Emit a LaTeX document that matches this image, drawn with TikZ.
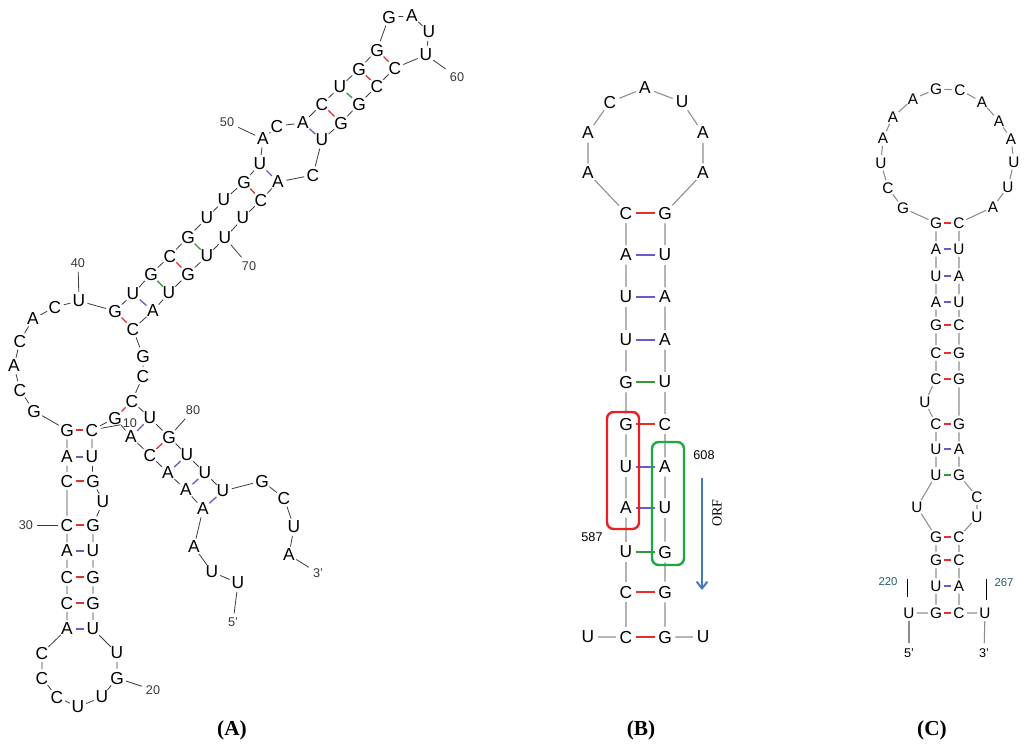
\documentclass[tikz,border=0pt]{standalone}
\usepackage{fontspec}
\setmainfont{Liberation Sans}
\newfontfamily\titlefont{Liberation Serif}
\usepackage{xcolor}
\usetikzlibrary{arrows.meta}
\definecolor{redGC}{RGB}{232,45,45}
\definecolor{blueAU}{RGB}{105,90,200}
\definecolor{greenGU}{RGB}{55,150,55}
\definecolor{bbdark}{RGB}{60,60,60}
\definecolor{bblight}{RGB}{140,140,140}
\definecolor{numgray}{RGB}{55,55,55}
\definecolor{tealnum}{RGB}{35,95,105}
\definecolor{orfblue}{RGB}{70,120,190}
\definecolor{boxred}{RGB}{235,30,35}
\definecolor{boxgreen}{RGB}{25,170,65}

\begin{document}
\begin{tikzpicture}[x=0.75pt,y=0.75pt,yscale=-1,xscale=1,
    ntA/.style={circle,inner sep=0pt,text depth=0pt,font=\fontsize{13}{13}\selectfont},
    ntB/.style={circle,inner sep=0.6pt,text depth=0pt,font=\fontsize{13}{13}\selectfont},
    ntC/.style={circle,inner sep=0pt,text depth=0pt,font=\fontsize{11.5}{11.5}\selectfont},
    numA/.style={inner sep=3pt,text=numgray,font=\fontsize{9.5}{9.5}\selectfont},
    numC/.style={inner sep=1pt,text=tealnum,font=\fontsize{8.5}{8.5}\selectfont},
    bbA/.style={draw=bbdark,line width=0.6pt},
    bbB/.style={draw=bblight,line width=0.8pt},
    gcpair/.style={draw=redGC,line width=1pt},
    aupair/.style={draw=blueAU,line width=1pt},
    gupair/.style={draw=greenGU,line width=1pt},
    paneltitle/.style={font=\titlefont\bfseries\fontsize{16}{16}\selectfont}]
\useasboundingbox (0,0) rectangle (1024,755);

%%%%%%%%%%%%%%%% panel A
% Text Node
\node[ntA] (a1) at (238,583) {U};
\node[ntA] (a2) at (212,572) {U};
\node[ntA] (a3) at (194,547) {A};
\node[ntA] (a4) at (203,509) {A};
\node[ntA] (a5) at (186,490) {A};
\node[ntA] (a6) at (168,473) {A};
\node[ntA] (a7) at (150,455) {C};
\node[ntA] (a8) at (131,437) {A};
\node[ntA] (a9) at (115,418) {G};
\node[ntA] (a10) at (92,430) {C};
\node[ntA] (a11) at (92,457) {U};
\node[ntA] (a12) at (93,481) {G};
\node[ntA] (a13) at (103,502) {U};
\node[ntA] (a14) at (93,525) {G};
\node[ntA] (a15) at (93,551) {U};
\node[ntA] (a16) at (93,577) {G};
\node[ntA] (a17) at (93,603) {G};
\node[ntA] (a18) at (93,629) {U};
\node[ntA] (a19) at (117,653) {U};
\node[ntA] (a20) at (117,678) {G};
\node[ntA] (a21) at (102,697) {U};
\node[ntA] (a22) at (78,707) {U};
\node[ntA] (a23) at (57,697) {C};
\node[ntA] (a24) at (42,678) {C};
\node[ntA] (a25) at (42,653) {C};
\node[ntA] (a26) at (67,629) {A};
\node[ntA] (a27) at (67,603) {C};
\node[ntA] (a28) at (67,577) {C};
\node[ntA] (a29) at (67,551) {A};
\node[ntA] (a30) at (67,525) {C};
\node[ntA] (a31) at (67,481) {C};
\node[ntA] (a32) at (67,457) {A};
\node[ntA] (a33) at (67,430) {G};
\node[ntA] (a34) at (34,411) {G};
\node[ntA] (a35) at (20,390) {C};
\node[ntA] (a36) at (14,366) {A};
\node[ntA] (a37) at (20,341) {C};
\node[ntA] (a38) at (33,319) {A};
\node[ntA] (a39) at (55,307) {C};
\node[ntA] (a40) at (79,301) {U};
\node[ntA] (a41) at (115,311) {G};
\node[ntA] (a42) at (133,294) {U};
\node[ntA] (a43) at (151,274) {G};
\node[ntA] (a44) at (170,256) {C};
\node[ntA] (a45) at (188,237) {G};
\node[ntA] (a46) at (207,218) {U};
\node[ntA] (a47) at (224,200) {U};
\node[ntA] (a48) at (244,182) {G};
\node[ntA] (a49) at (260,164) {U};
\node[ntA] (a50) at (263,139) {A};
\node[ntA] (a51) at (277,126) {C};
\node[ntA] (a52) at (303,123) {A};
\node[ntA] (a53) at (322,104) {C};
\node[ntA] (a54) at (340,87) {U};
\node[ntA] (a55) at (359,69) {G};
\node[ntA] (a56) at (377,50) {G};
\node[ntA] (a57) at (389,17) {G};
\node[ntA] (a58) at (412,16) {A};
\node[ntA] (a59) at (429,32) {U};
\node[ntA] (a60) at (426,55) {U};
\node[ntA] (a61) at (395,68) {C};
\node[ntA] (a62) at (377,86) {C};
\node[ntA] (a63) at (359,104) {G};
\node[ntA] (a64) at (341,123) {G};
\node[ntA] (a65) at (322,140) {U};
\node[ntA] (a66) at (313,175) {C};
\node[ntA] (a67) at (278,182) {A};
\node[ntA] (a68) at (261,200) {C};
\node[ntA] (a69) at (243,218) {U};
\node[ntA] (a70) at (225,238) {U};
\node[ntA] (a71) at (207,256) {U};
\node[ntA] (a72) at (188,274) {G};
\node[ntA] (a73) at (169,293) {U};
\node[ntA] (a74) at (153,311) {A};
\node[ntA] (a75) at (133,329) {C};
\node[ntA] (a76) at (143,356) {G};
\node[ntA] (a77) at (143,376) {C};
\node[ntA] (a78) at (132,401) {C};
\node[ntA] (a79) at (150,418) {U};
\node[ntA] (a80) at (169,437) {G};
\node[ntA] (a81) at (187,455) {U};
\node[ntA] (a82) at (205,473) {U};
\node[ntA] (a83) at (223,491) {U};
\node[ntA] (a84) at (262,481) {G};
\node[ntA] (a85) at (284,498) {C};
\node[ntA] (a86) at (294,527) {U};
\node[ntA] (a87) at (289,555) {A};

% backbone
\draw[bbA] (a1) -- (a2) -- (a3) -- (a4) -- (a5) -- (a6) -- (a7) -- (a8) -- (a9) -- (a10)
  -- (a11) -- (a12) -- (a13) -- (a14) -- (a15) -- (a16) -- (a17) -- (a18) -- (a19) -- (a20)
  -- (a21) -- (a22) -- (a23) -- (a24) -- (a25) -- (a26) -- (a27) -- (a28) -- (a29) -- (a30)
  -- (a31) -- (a32) -- (a33) -- (a34) -- (a35) -- (a36) -- (a37) -- (a38) -- (a39) -- (a40)
  -- (a41) -- (a42) -- (a43) -- (a44) -- (a45) -- (a46) -- (a47) -- (a48) -- (a49) -- (a50)
  -- (a51) -- (a52) -- (a53) -- (a54) -- (a55) -- (a56) -- (a57) -- (a58) -- (a59) -- (a60)
  -- (a61) -- (a62) -- (a63) -- (a64) -- (a65) -- (a66) -- (a67) -- (a68) -- (a69) -- (a70)
  -- (a71) -- (a72) -- (a73) -- (a74) -- (a75) -- (a76) -- (a77) -- (a78) -- (a79) -- (a80)
  -- (a81) -- (a82) -- (a83) -- (a84) -- (a85) -- (a86) -- (a87);

% pairs
\draw[gcpair] (a10) -- (a33);
\draw[aupair] (a11) -- (a32);
\draw[gcpair] (a12) -- (a31);
\draw[gcpair] (a14) -- (a30);
\draw[aupair] (a15) -- (a29);
\draw[gcpair] (a16) -- (a28);
\draw[gcpair] (a17) -- (a27);
\draw[aupair] (a18) -- (a26);
\draw[gcpair] (a41) -- (a75);
\draw[aupair] (a42) -- (a74);
\draw[gupair] (a43) -- (a73);
\draw[gcpair] (a44) -- (a72);
\draw[gupair] (a45) -- (a71);
\draw[gcpair] (a48) -- (a68);
\draw[aupair] (a49) -- (a67);
\draw[aupair] (a52) -- (a65);
\draw[gcpair] (a53) -- (a64);
\draw[gupair] (a54) -- (a63);
\draw[gcpair] (a55) -- (a62);
\draw[gcpair] (a56) -- (a61);
\draw[gcpair] (a9) -- (a78);
\draw[aupair] (a8) -- (a79);
\draw[gcpair] (a7) -- (a80);
\draw[aupair] (a6) -- (a81);
\draw[aupair] (a5) -- (a82);
\draw[aupair] (a4) -- (a83);

% numbers
\node[numA,inner sep=1.5pt] (l10) at (130,423) {10};
\node[numA] (l20) at (153,690) {20};
\node[numA] (l30) at (26,525) {30};
\node[numA] (l40) at (78,263) {40};
\node[numA] (l50) at (227,122) {50};
\node[numA] (l60) at (457,77) {60};
\node[numA] (l70) at (249,266) {70};
\node[numA] (l80) at (193,410) {80};
\node[numA] (l5A) at (233,622) {5'};
\node[numA] (l3A) at (318,573) {3'};
\draw[bbA] (a10) -- (l10);
\draw[bbA] (a20) -- (l20);
\draw[bbA] (a30) -- (l30);
\draw[bbA] (a40) -- (l40);
\draw[bbA] (a50) -- (l50);
\draw[bbA] (a60) -- (l60);
\draw[bbA] (a70) -- (l70);
\draw[bbA] (a80) -- (l80);
\draw[bbA] (a1) -- (l5A);
\draw[bbA] (a87) -- (l3A);

%%%%%%%%%%%%%%%% panel B
\node[ntB] (b1) at (588,637) {U};
\node[ntB] (b2) at (626,637) {C};
\node[ntB] (b3) at (626,592) {C};
\node[ntB] (b4) at (626,552) {U};
\node[ntB] (b5) at (626,508) {A};
\node[ntB] (b6) at (626,467) {U};
\node[ntB] (b7) at (626,424) {G};
\node[ntB] (b8) at (626,382) {G};
\node[ntB] (b9) at (626,340) {U};
\node[ntB] (b10) at (626,297) {U};
\node[ntB] (b11) at (626,255) {A};
\node[ntB] (b12) at (626,213) {C};
\node[ntB] (b13) at (588,173) {A};
\node[ntB] (b14) at (588,133) {A};
\node[ntB] (b15) at (610,102) {C};
\node[ntB] (b16) at (645,88) {A};
\node[ntB] (b17) at (682,102) {U};
\node[ntB] (b18) at (703,133) {A};
\node[ntB] (b19) at (703,173) {A};
\node[ntB] (b20) at (665,213) {G};
\node[ntB] (b21) at (665,255) {U};
\node[ntB] (b22) at (665,297) {A};
\node[ntB] (b23) at (665,340) {A};
\node[ntB] (b24) at (665,382) {U};
\node[ntB] (b25) at (665,424) {C};
\node[ntB] (b26) at (665,467) {A};
\node[ntB] (b27) at (665,508) {U};
\node[ntB] (b28) at (665,552) {G};
\node[ntB] (b29) at (665,592) {G};
\node[ntB] (b30) at (665,637) {G};
\node[ntB] (b31) at (703,637) {U};

\draw[bbB] (b1) -- (b2) -- (b3) -- (b4) -- (b5) -- (b6) -- (b7) -- (b8) -- (b9) -- (b10)
  -- (b11) -- (b12) -- (b13) -- (b14) -- (b15) -- (b16) -- (b17) -- (b18) -- (b19) -- (b20)
  -- (b21) -- (b22) -- (b23) -- (b24) -- (b25) -- (b26) -- (b27) -- (b28) -- (b29) -- (b30) -- (b31);

\draw[gcpair] (b12) -- (b20);
\draw[aupair] (b11) -- (b21);
\draw[aupair] (b10) -- (b22);
\draw[aupair] (b9) -- (b23);
\draw[gupair] (b8) -- (b24);
\draw[gcpair] (b7) -- (b25);
\draw[aupair] (b6) -- (b26);
\draw[aupair] (b5) -- (b27);
\draw[gupair] (b4) -- (b28);
\draw[gcpair] (b3) -- (b29);
\draw[gcpair] (b2) -- (b30);

%Shape: Rectangle
\draw[boxred,line width=1.8pt,rounded corners=5pt] (607,412) rectangle (639,529);
%Shape: Rectangle
\draw[boxgreen,line width=1.8pt,rounded corners=5pt] (652,442) rectangle (684,565);
%Straight Lines
\draw[orfblue,line width=1.5pt,-{Straight Barb[length=5pt,width=8pt]}] (702,478) -- (702,590);
\node[rotate=90,font=\titlefont\fontsize{10.5}{10.5}\selectfont] (orf) at (717,513) {ORF};
\node[numA,text=black] (n608) at (704,455) {608};
\node[numA,text=black] (n587) at (592,537) {587};

%%%%%%%%%%%%%%%% panel C
\node[ntC] (c1) at (909,613) {U};
\node[ntC] (c2) at (936,613) {G};
\node[ntC] (c3) at (936,586) {U};
\node[ntC] (c4) at (936,560) {G};
\node[ntC] (c5) at (936,537) {G};
\node[ntC] (c6) at (917,507) {U};
\node[ntC] (c7) at (936,475) {U};
\node[ntC] (c8) at (936,449) {U};
\node[ntC] (c9) at (936,424) {C};
\node[ntC] (c10) at (925,402) {U};
\node[ntC] (c11) at (936,379) {C};
\node[ntC] (c12) at (936,353) {C};
\node[ntC] (c13) at (936,325) {G};
\node[ntC] (c14) at (936,302) {A};
\node[ntC] (c15) at (936,276) {U};
\node[ntC] (c16) at (936,249) {A};
\node[ntC] (c17) at (936,223) {G};
\node[ntC] (c18) at (903,208) {G};
\node[ntC] (c19) at (888,188) {C};
\node[ntC] (c20) at (881,163) {U};
\node[ntC] (c21) at (883,138) {A};
\node[ntC] (c22) at (893,117) {A};
\node[ntC] (c23) at (913,99) {A};
\node[ntC] (c24) at (936,89) {G};
\node[ntC] (c25) at (960,90) {C};
\node[ntC] (c26) at (982,102) {A};
\node[ntC] (c27) at (999,121) {A};
\node[ntC] (c28) at (1011,139) {A};
\node[ntC] (c29) at (1014,162) {U};
\node[ntC] (c30) at (1008,187) {U};
\node[ntC] (c31) at (993,207) {A};
\node[ntC] (c32) at (959,223) {C};
\node[ntC] (c33) at (959,249) {U};
\node[ntC] (c34) at (959,276) {A};
\node[ntC] (c35) at (959,302) {U};
\node[ntC] (c36) at (959,325) {C};
\node[ntC] (c37) at (959,353) {G};
\node[ntC] (c38) at (959,379) {G};
\node[ntC] (c39) at (959,424) {G};
\node[ntC] (c40) at (959,449) {A};
\node[ntC] (c41) at (959,475) {G};
\node[ntC] (c42) at (977,497) {C};
\node[ntC] (c43) at (977,517) {U};
\node[ntC] (c44) at (959,537) {C};
\node[ntC] (c45) at (959,560) {C};
\node[ntC] (c46) at (959,586) {A};
\node[ntC] (c47) at (959,613) {C};
\node[ntC] (c48) at (985,613) {U};

\draw[bbB] (c1) -- (c2) -- (c3) -- (c4) -- (c5) -- (c6) -- (c7) -- (c8) -- (c9) -- (c10)
  -- (c11) -- (c12) -- (c13) -- (c14) -- (c15) -- (c16) -- (c17) -- (c18) -- (c19) -- (c20)
  -- (c21) -- (c22) -- (c23) -- (c24) -- (c25) -- (c26) -- (c27) -- (c28) -- (c29) -- (c30)
  -- (c31) -- (c32) -- (c33) -- (c34) -- (c35) -- (c36) -- (c37) -- (c38) -- (c39) -- (c40)
  -- (c41) -- (c42) -- (c43) -- (c44) -- (c45) -- (c46) -- (c47) -- (c48);

\draw[gcpair] (c2) -- (c47);
\draw[aupair] (c3) -- (c46);
\draw[gcpair] (c4) -- (c45);
\draw[gcpair] (c5) -- (c44);
\draw[gupair] (c7) -- (c41);
\draw[aupair] (c8) -- (c40);
\draw[gcpair] (c9) -- (c39);
\draw[gcpair] (c11) -- (c38);
\draw[gcpair] (c12) -- (c37);
\draw[gcpair] (c13) -- (c36);
\draw[aupair] (c14) -- (c35);
\draw[aupair] (c15) -- (c34);
\draw[aupair] (c16) -- (c33);
\draw[gcpair] (c17) -- (c32);

\node[numA,text=black,inner sep=4pt] (l5C) at (909,653) {5'};
\node[numA,text=black,inner sep=4pt] (l3C) at (984,653) {3'};
\draw[bbB] (c1) -- (l5C);
\draw[bbB] (c48) -- (l3C);
\node[numC] (n220) at (888,582) {220};
\node[numC] (n267) at (1004,583) {267};
\coordinate (t220a) at (907,579);
\coordinate (t220b) at (907,597);
\coordinate (t267a) at (986,579);
\coordinate (t267b) at (986,600);
\draw[line width=0.7pt] (t220a) -- (t220b);
\draw[line width=0.7pt] (t267a) -- (t267b);

% panel titles
\node[paneltitle] (titA) at (232,730) {(A)};
\node[paneltitle] (titB) at (641,730) {(B)};
\node[paneltitle] (titC) at (932,730) {(C)};
\end{tikzpicture}
\end{document}
